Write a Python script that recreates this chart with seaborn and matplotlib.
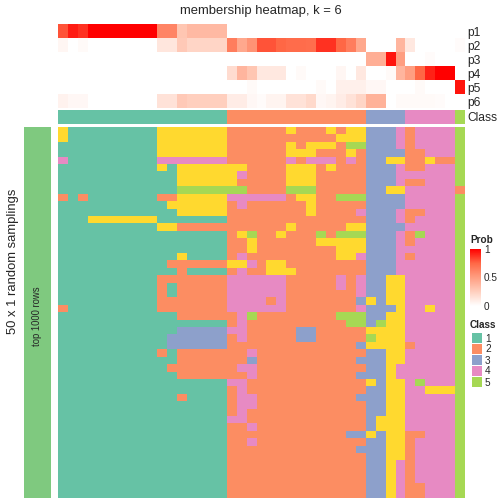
import numpy as np
import seaborn as sns
import matplotlib.pyplot as plt
from matplotlib.colors import ListedColormap, LinearSegmentedColormap

# class colours (1..5 are the classes, 6 shows as yellow in the samplings)
class_colors = ["#66C2A5", "#FC8D62", "#8DA0CB", "#E78AC3", "#A6D854", "#FFD92F"]
legend_levels = [1, 2, 3, 4, 5]
prob_names = ["p1", "p2", "p3", "p4", "p5", "p6"]

# class of each column (sample)
col_class = [1, 1, 1, 1, 1, 1, 1, 1, 1, 1, 1, 1, 1, 1, 1, 1, 1,
             2, 2, 2, 2, 2, 2, 2, 2, 2, 2, 2, 2, 2, 2,
             3, 3, 3, 3,
             4, 4, 4, 4, 4,
             5]

# membership probabilities
p1 = [0.80, 0.93, 0.88, 1.0, 1.0, 1.0, 1.0, 1.0, 1.0, 1.0, 0.62, 0.62, 0.30, 0.36, 0.36, 0.36, 0.36,
      0, 0, 0, 0, 0, 0, 0, 0, 0, 0, 0, 0, 0, 0, 0, 0, 0, 0, 0, 0, 0, 0, 0, 0]
p2 = [0.05, 0, 0.03, 0, 0, 0, 0, 0, 0, 0, 0.13, 0.13, 0.28, 0.22, 0.22, 0.22, 0.22,
      0.65, 0.45, 0.55, 0.80, 0.80, 0.75, 0.73, 0.73, 0.72, 0.88, 0.88, 0.75, 0.65, 0.45,
      0, 0, 0, 0.38, 0.12, 0, 0, 0, 0, 0.02]
p3 = [0, 0, 0, 0, 0, 0, 0, 0, 0, 0, 0, 0, 0, 0, 0, 0, 0,
      0, 0, 0, 0, 0, 0, 0, 0, 0, 0, 0, 0, 0, 0,
      0.42, 0.42, 0.95, 0.50, 0, 0, 0.02, 0, 0, 0]
p4 = [0, 0, 0, 0, 0, 0, 0, 0, 0, 0, 0, 0, 0, 0, 0, 0, 0,
      0.18, 0.38, 0.30, 0.12, 0.12, 0.12, 0, 0.03, 0, 0, 0, 0.05, 0, 0.12,
      0, 0, 0.03, 0.38, 0.50, 0.75, 0.92, 1.0, 1.0, 0]
p5 = [0, 0, 0, 0, 0, 0, 0, 0, 0, 0, 0, 0, 0, 0, 0, 0, 0,
      0, 0, 0.03, 0, 0, 0, 0, 0, 0, 0.03, 0, 0.08, 0.08, 0.08,
      0.04, 0.04, 0, 0, 0, 0.03, 0, 0, 0, 0.95]
p6 = [0.07, 0.04, 0.04, 0, 0, 0, 0, 0, 0, 0, 0.15, 0.15, 0.28, 0.25, 0.25, 0.25, 0.25,
      0.10, 0.10, 0.04, 0.02, 0.06, 0.06, 0.15, 0.15, 0.20, 0.04, 0.06, 0.10, 0.15, 0.22,
      0.40, 0.40, 0, 0.03, 0.03, 0.03, 0.03, 0.02, 0, 0]

# class of each column in the 50 random samplings (spaces only split the column groups)
sampling_rows = [
    "6111111111 6666666 22222262226266 3334 24444 5",
    "6111111111 6666666 22222222222666 3334 24444 5",
    "1111111111 6666666 22222262666255 3334 24444 5",
    "1111111111 6666666 22222266622262 3333 22444 5",
    "4111111111 4444444 22222242444242 3366 22622 5",
    "1111111111 6166666 66222266626222 3334 22444 5",
    "1111111111 1166666 64222266622222 3334 44444 5",
    "1111111111 1166666 62222266622222 3334 22444 5",
    "1111111111 1155555 55222255522222 3366 44444 2",
    "2121111111 2266666 44444426622555 3333 44444 5",
    "1111111111 1666666 24222222622222 3333 44444 5",
    "1111111111 1166666 22222222622224 3334 22444 5",
    "1116666666 1111111 22222222222222 3334 24444 5",
    "1111111111 6622222 22222262222266 3333 44444 5",
    "1111111111 1111111 26522622252555 3334 25444 5",
    "1111111111 1111111 22622222266666 3334 24444 5",
    "1111111111 1111111 22622222222666 3334 44444 5",
    "1111111111 1161111 24222222222664 3334 24444 5",
    "1111111111 1222222 66426622222222 3334 44444 5",
    "1111111111 1121111 24226662222222 3334 44444 5",
    "1111111111 2222222 44444422222424 3366 44444 5",
    "1111111111 2122222 44444422222424 3366 44444 5",
    "1111111111 2122222 44444422222224 3366 44444 5",
    "1111111111 2222222 44442422222223 6366 44444 5",
    "2111111111 2222222 44444422222224 3336 44644 5",
    "1111111111 1122222 24522222222555 3366 44444 5",
    "1111111111 1111111 24222222222255 3566 44444 5",
    "1111111111 1133333 44222223322222 6666 44444 5",
    "1111111111 1333333 24222223322222 5666 44444 5",
    "1111111111 1333333 22222222222223 6666 24444 5",
    "1111111111 2122222 22422222222222 3366 44444 5",
    "1111111111 1122222 22322222222223 3366 44444 5",
    "1111111111 1222222 24422222222222 3364 44444 5",
    "1111111111 1122222 22422222222223 3364 44444 5",
    "1111111111 1111111 44222222222222 6366 45444 5",
    "1111111111 1111111 24222222222222 3366 44666 5",
    "1111111111 1121111 24422222222223 3366 44444 5",
    "1111111111 1111111 24422222222222 3366 44444 5",
    "1111111111 1111111 24222222222222 3366 44444 5",
    "1111111111 1111111 44222222222222 3666 44444 5",
    "1111111111 1111111 22422222222222 3666 44444 5",
    "1111111111 1111111 22222222222233 6366 22444 5",
    "1111111111 1111111 22422222222222 3366 24444 5",
    "1111111111 1111111 22222222222223 3366 24444 5",
    "1111111111 1111111 22222222222222 3366 24444 5",
    "1111111111 1111111 22222222222222 3364 24444 5",
    "1111111111 1111111 22222222222222 3364 24444 5",
    "1111111111 1111111 22222222222222 3364 24444 5",
    "1111111111 1111111 22222222222222 3364 22444 5",
    "1111111111 1111111 22222222222222 3364 22444 5",
]

W, H = 504, 504


def box(x0, y0, x1, y1):  # pixel box (top-left origin) -> figure coords
    return [x0 / W, 1 - y1 / H, (x1 - x0) / W, (y1 - y0) / H]


sns.set_style("white")
plt.rcParams['font.family'] = ['Liberation Sans', 'DejaVu Sans']

samplings = np.array([[int(c) for c in r.replace(" ", "")] for r in sampling_rows])
probs = np.array([p1, p2, p3, p4, p5, p6])

prob_cmap = LinearSegmentedColormap.from_list(
    "prob", ["#FFFFFF", "#FFCFBE", "#FF9E81", "#FF6846", "#FF0000"])
class_cmap = ListedColormap(class_colors)

fig = plt.figure(figsize=(7, 7), dpi=72)

ax_prob = fig.add_axes(box(58, 24.3, 465, 108))
cbar_ax = fig.add_axes(box(470, 249, 481, 306))
sns.heatmap(probs, ax=ax_prob, cmap=prob_cmap, vmin=0, vmax=1, cbar_ax=cbar_ax,
            xticklabels=False, yticklabels=prob_names)
ax_prob.yaxis.tick_right()
ax_prob.tick_params(axis="y", length=0, pad=2, labelsize=12, labelrotation=0)

cbar = ax_prob.collections[0].colorbar
cbar.outline.set_visible(False)
cbar.set_ticks([0, 0.5, 1])
cbar.set_ticklabels(["0", "0.5", "1"])
cbar.ax.tick_params(size=3, color="white", direction="in", labelsize=10, pad=3)

ax_class = fig.add_axes(box(58, 110, 465, 123.5))
sns.heatmap(np.array([col_class]), ax=ax_class, cmap=class_cmap, vmin=0.5, vmax=6.5,
            cbar=False, xticklabels=False, yticklabels=["Class"])
ax_class.yaxis.tick_right()
ax_class.tick_params(axis="y", length=0, pad=2, labelsize=12, labelrotation=0)

ax_main = fig.add_axes(box(58, 127, 465, 497.5))
sns.heatmap(samplings, ax=ax_main, cmap=class_cmap, vmin=0.5, vmax=6.5,
            cbar=False, xticklabels=False, yticklabels=False)

ax_left = fig.add_axes(box(24, 127, 51, 497.5))
sns.heatmap(np.array([[1]]), ax=ax_left, cmap=ListedColormap(["#7FC97F"]),
            cbar=False, xticklabels=False, yticklabels=False)
ax_left.text(0.5, 0.49, "top 1000 rows", transform=ax_left.transAxes, rotation=90,
             ha="center", va="center", fontsize=9.5)

ax_leg = fig.add_axes(box(471, 332, 482, 387))
sns.heatmap(np.array(legend_levels).reshape(-1, 1), ax=ax_leg, cmap=ListedColormap(class_colors[:5]),
            vmin=0.5, vmax=5.5, cbar=False, linewidths=1, linecolor="white",
            xticklabels=False, yticklabels=legend_levels)
ax_leg.yaxis.tick_right()
ax_leg.tick_params(axis="y", length=0, pad=3, labelsize=10, labelrotation=0)

fig.text(261 / W, 1 - 11 / H, "membership heatmap, k = 6", ha="center", va="center", fontsize=13)
fig.text(13 / W, 1 - 261 / H, "50 x 1 random samplings", rotation=90, ha="center", va="center",
         fontsize=13)
fig.text(470 / W, 1 - 240 / H, "Prob", fontweight="bold", fontsize=10, va="center")
fig.text(470 / W, 1 - 325 / H, "Class", fontweight="bold", fontsize=10, va="center")

fig.savefig("out.png", dpi=72)
